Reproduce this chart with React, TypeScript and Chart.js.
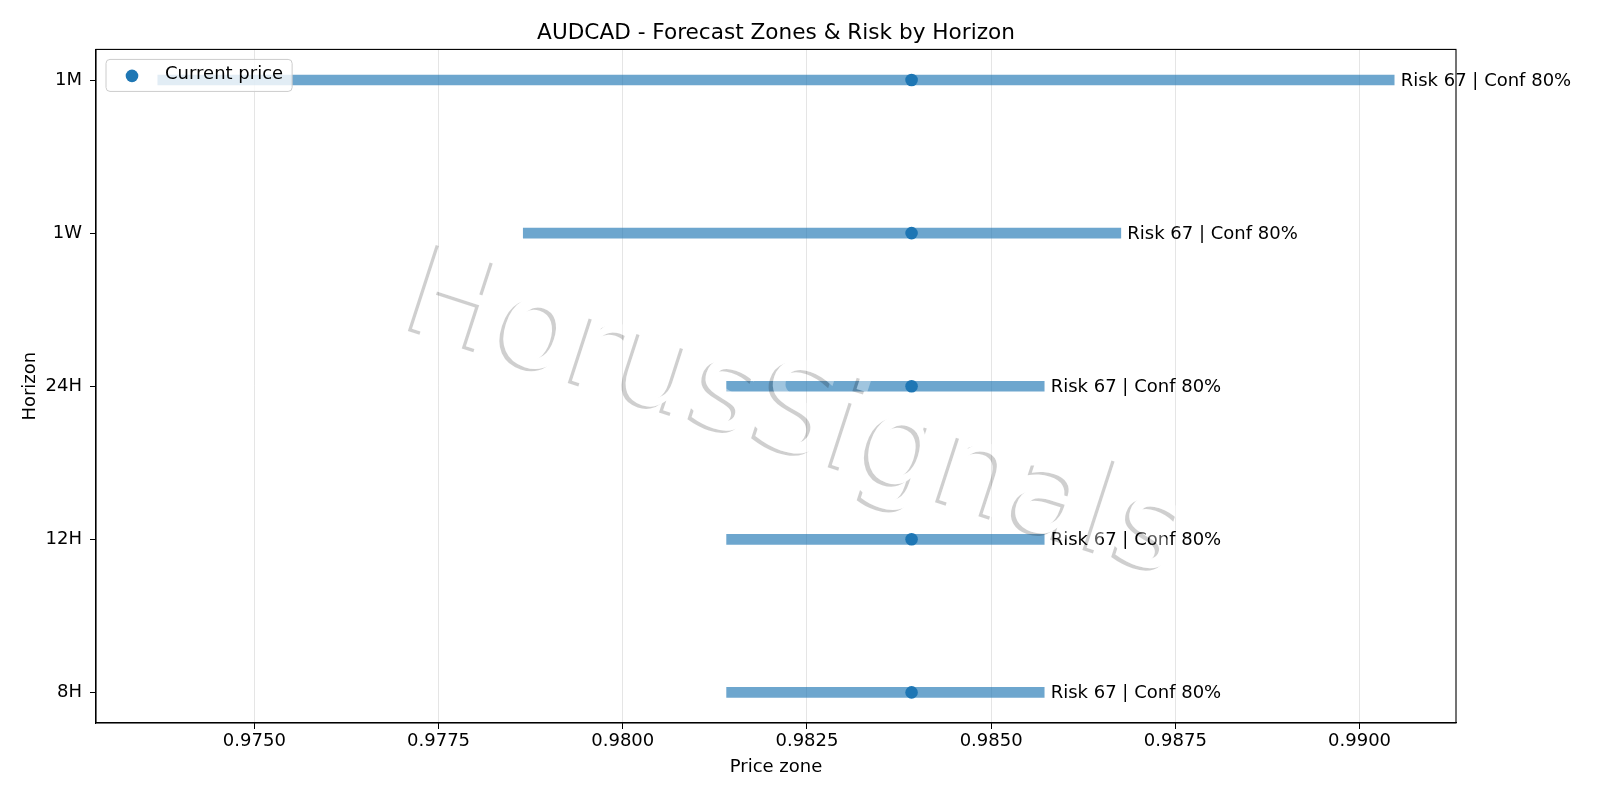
import React, { useEffect, useRef } from 'react';
import { Chart, registerables } from 'chart.js';

Chart.register(...registerables);

// horizons listed bottom -> top, like the y axis
const HORIZONS = ['8H', '12H', '24H', '1W', '1M'];
const ZONE_LOW = [0.98141, 0.98141, 0.98141, 0.97865, 0.97369];
const ZONE_HIGH = [0.98572, 0.98572, 0.98572, 0.98676, 0.99047];
const CURRENT_PRICE = [0.98392, 0.98392, 0.98392, 0.98392, 0.98392];
const RISK = [67, 67, 67, 67, 67];
const CONF = [80, 80, 80, 80, 80];
const X_TICKS = [0.975, 0.9775, 0.98, 0.9825, 0.985, 0.9875, 0.99];

const TITLE = 'AUDCAD - Forecast Zones & Risk by Horizon';
const WATERMARK = 'HorusSignals';
const FONT = '"DejaVu Sans", Verdana, sans-serif';
const BLUE = '#1f77b4';

const decorPlugin = {
  id: 'decor',
  afterDatasetsDraw(chart: Chart) {
    const { ctx, chartArea: area, scales } = chart;
    const xs = scales.x;
    const ys = scales.y;

    // frame (matplotlib spines)
    ctx.save();
    ctx.strokeStyle = '#000';
    ctx.lineWidth = 1.1;
    ctx.strokeRect(area.left, area.top, area.right - area.left, area.bottom - area.top);
    ctx.restore();

    // risk / confidence labels at the right end of each zone
    ctx.save();
    ctx.font = `18px ${FONT}`;
    ctx.fillStyle = '#000';
    ctx.textAlign = 'left';
    ctx.textBaseline = 'middle';
    HORIZONS.forEach((_, i) => {
      const x = xs.getPixelForValue(ZONE_HIGH[i]) + 6.5;
      const y = ys.getPixelForValue(i);
      ctx.fillText(`Risk ${RISK[i]} | Conf ${CONF[i]}%`, x, y + 1);
    });
    ctx.restore();

    // watermark: white text with a soft gray drop shadow
    const off = document.createElement('canvas');
    off.width = chart.width;
    off.height = chart.height;
    const o = off.getContext('2d');
    if (o) {
      const cx = (area.left + area.right) / 2 + 19;
      const cy = (area.top + area.bottom) / 2 + 33;
      const draw = (dx: number, dy: number, style: string) => {
        o.save();
        o.translate(cx + dx, cy + dy);
        o.rotate((18 * Math.PI) / 180);
        o.font = `124px ${FONT}`;
        o.textAlign = 'center';
        o.textBaseline = 'middle';
        o.fillStyle = style;
        o.fillText(WATERMARK, 0, 0);
        o.restore();
      };
      draw(-4.2, 2.4, 'rgba(0,0,0,0.19)');
      o.globalCompositeOperation = 'destination-out';
      draw(0, 0, '#000');
      o.globalCompositeOperation = 'source-over';
      draw(0, 0, 'rgba(255,255,255,0.35)');
      ctx.drawImage(off, 0, 0, chart.width, chart.height);
    }

    // legend box (upper left, inside the axes)
    const label = chart.data.datasets[1].label as string;
    ctx.save();
    ctx.font = `18px ${FONT}`;
    const tw = ctx.measureText(label).width;
    const bx = area.left + 10;
    const by = area.top + 10;
    const bw = tw + 68;
    const bh = 32;
    ctx.beginPath();
    ctx.roundRect(bx, by, bw, bh, 4);
    ctx.fillStyle = 'rgba(255,255,255,0.8)';
    ctx.fill();
    ctx.strokeStyle = '#cccccc';
    ctx.lineWidth = 1;
    ctx.stroke();
    ctx.beginPath();
    ctx.arc(bx + 26, by + 16.5, 6.3, 0, Math.PI * 2);
    ctx.fillStyle = BLUE;
    ctx.fill();
    ctx.fillStyle = '#000';
    ctx.textBaseline = 'middle';
    ctx.fillText(label, bx + 59, by + 15);
    ctx.restore();
  },
};

const App: React.FC = () => {
  const canvasRef = useRef<HTMLCanvasElement>(null);

  useEffect(() => {
    if (!canvasRef.current) return;

    const lo = Math.min(...ZONE_LOW);
    const hi = Math.max(...ZONE_HIGH);
    const pad = (hi - lo) * 0.05;

    const chart = new Chart(canvasRef.current, {
      type: 'bar',
      data: {
        datasets: [
          {
            type: 'bar',
            label: 'Zone',
            data: HORIZONS.map((_, i) => ({ x: [ZONE_LOW[i], ZONE_HIGH[i]], y: i })) as any,
            backgroundColor: 'rgba(31,119,180,0.65)',
            borderWidth: 0,
            barThickness: 10,
          },
          {
            type: 'scatter',
            label: 'Current price',
            data: HORIZONS.map((_, i) => ({ x: CURRENT_PRICE[i], y: i })),
            backgroundColor: BLUE,
            borderColor: BLUE,
            pointRadius: 6.3,
            pointBorderWidth: 0,
            pointHoverRadius: 6.3,
          },
        ],
      },
      options: {
        indexAxis: 'y',
        responsive: false,
        animation: false,
        events: [],
        layout: { padding: { left: 0, right: 144, top: 0, bottom: 0 } },
        plugins: {
          legend: { display: false },
          tooltip: { enabled: false },
          title: {
            display: true,
            text: TITLE,
            fullSize: false,
            color: '#000',
            font: { family: FONT, size: 21.6, weight: 'normal' },
            padding: { top: 20, bottom: 3.5 },
          },
        },
        scales: {
          x: {
            type: 'linear',
            min: lo - pad,
            max: hi + pad,
            offset: false,
            afterBuildTicks: (axis: any) => {
              axis.ticks = X_TICKS.map((v) => ({ value: v }));
            },
            afterFit: (axis: any) => {
              axis.height = 77;
            },
            grid: {
              color: 'rgba(0,0,0,0.1)',
              lineWidth: 1,
              tickColor: '#000',
              tickLength: 6,
              drawTicks: true,
            },
            border: { color: '#000', width: 1.1 },
            ticks: {
              color: '#000',
              padding: 2,
              font: { family: FONT, size: 18 },
              callback: (v: any) => Number(v).toFixed(4),
            },
            title: {
              display: true,
              text: 'Price zone',
              color: '#000',
              font: { family: FONT, size: 18 },
              padding: { top: 0, bottom: 22 },
            },
          },
          y: {
            type: 'linear',
            min: -0.2,
            max: 4.2,
            offset: false,
            afterBuildTicks: (axis: any) => {
              axis.ticks = HORIZONS.map((_, i) => ({ value: i }));
            },
            afterFit: (axis: any) => {
              axis.width = 96;
            },
            grid: {
              offset: false,
              drawOnChartArea: false,
              tickColor: '#000',
              tickLength: 6,
            },
            border: { color: '#000', width: 1.1 },
            ticks: {
              color: '#000',
              padding: 8,
              autoSkip: false,
              font: { family: FONT, size: 18 },
              callback: (v: any) => HORIZONS[Math.round(Number(v))],
            },
            title: {
              display: true,
              text: 'Horizon',
              color: '#000',
              font: { family: FONT, size: 18 },
              padding: { top: 20, bottom: 0 },
            },
          },
        },
      },
      plugins: [decorPlugin],
    } as any);

    return () => {
      chart.destroy();
    };
  }, []);

  return (
    <div style={{ position: 'absolute', left: 0, top: 0, width: 1600, height: 800, background: '#fff' }}>
      <canvas ref={canvasRef} width={1600} height={800} style={{ width: 1600, height: 800 }} />
    </div>
  );
};

export default App;
